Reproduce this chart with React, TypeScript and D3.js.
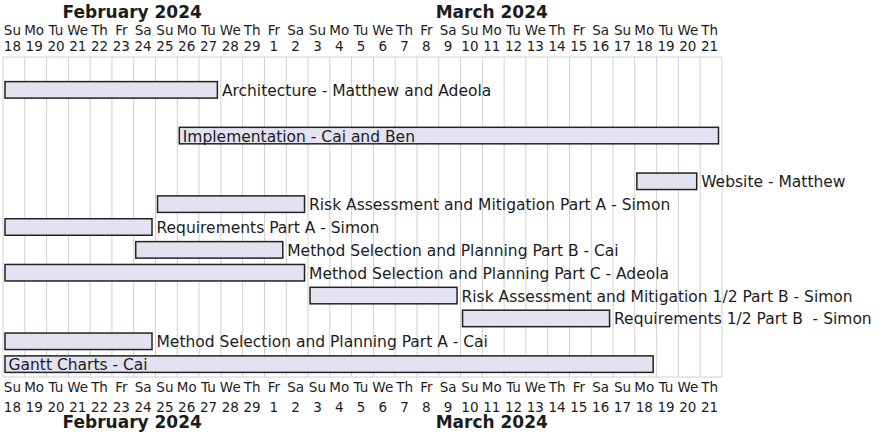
import React from 'react';
import * as d3 from 'd3';

const firstDay = '2024-02-18';
const lastDay = '2024-03-21';
const dayAbbr = ['Su', 'Mo', 'Tu', 'We', 'Th', 'Fr', 'Sa'];

const taskNames = [
  'Architecture - Matthew and Adeola',
  'Implementation - Cai and Ben',
  'Website - Matthew',
  'Risk Assessment and Mitigation Part A - Simon',
  'Requirements Part A - Simon',
  'Method Selection and Planning Part B - Cai',
  'Method Selection and Planning Part C - Adeola',
  'Risk Assessment and Mitigation 1/2 Part B - Simon',
  'Requirements 1/2 Part B  - Simon',
  'Method Selection and Planning Part A - Cai',
  'Gantt Charts - Cai',
];
const taskStarts = [
  '2024-02-18', '2024-02-26', '2024-03-18', '2024-02-25', '2024-02-18', '2024-02-24',
  '2024-02-18', '2024-03-03', '2024-03-10', '2024-02-18', '2024-02-18',
];
// last day included
const taskEnds = [
  '2024-02-27', '2024-03-21', '2024-03-20', '2024-03-02', '2024-02-24', '2024-03-01',
  '2024-03-02', '2024-03-09', '2024-03-16', '2024-02-24', '2024-03-18',
];
const taskRows = [1, 3, 5, 6, 7, 8, 9, 10, 11, 12, 13];
const labelInside = ['Implementation - Cai and Ben', 'Gantt Charts - Cai'];

const W = 882;
const H = 439;
const gridTop = 57;
const gridBottom = 377;
const rowCount = 14;
const font = 'DejaVu Sans, Verdana, sans-serif';
const ink = '#1c1c1c';

export default function App() {
  const parse = d3.utcParse('%Y-%m-%d');
  const d0 = parse(firstDay)!;
  const d1 = d3.utcDay.offset(parse(lastDay)!, 1);
  const days = d3.utcDay.range(d0, d1);

  const x = d3.scaleUtc().domain([d0, d1]).range([3, 722]);
  const y = d3.scaleLinear().domain([0, rowCount]).range([gridTop, gridBottom]);

  const months = d3.utcMonth.range(d3.utcMonth.floor(d0), d1).map(m => {
    const a = m < d0 ? d0 : m;
    const b = d3.utcMonth.offset(m, 1) > d1 ? d1 : d3.utcMonth.offset(m, 1);
    return { label: d3.utcFormat('%B %Y')(m), cx: (x(a) + x(b)) / 2 - 1.5 };
  });
  const colMid = (d: Date) => x(d) + (x(d3.utcDay.offset(d, 1)) - x(d)) / 2 - 1.5;

  const header = (dowY: number, numY: number, monY: number) => (
    <g fill={ink}>
      {months.map(m => (
        <text key={m.label} x={m.cx} y={monY} textAnchor="middle" fontWeight="bold" fontSize={17}>{m.label}</text>
      ))}
      {days.map(d => (
        <g key={+d} fontSize={13.5} textAnchor="middle">
          <text x={colMid(d)} y={dowY}>{dayAbbr[d.getUTCDay()]}</text>
          <text x={colMid(d)} y={numY}>{d.getUTCDate()}</text>
        </g>
      ))}
    </g>
  );

  return (
    <svg width={W} height={H} style={{ position: 'absolute', left: 0, top: 0, background: '#fff' }} fontFamily={font}>
      {days.concat([d1]).map(d => (
        <line key={'g' + +d} x1={x(d)} x2={x(d)} y1={gridTop} y2={gridBottom} stroke="#d0d0d0" strokeWidth={1} />
      ))}
      <line x1={x(d0)} x2={x(d1)} y1={gridTop} y2={gridTop} stroke="#d0d0d0" />
      <line x1={x(d0)} x2={x(d1)} y1={gridBottom} y2={gridBottom} stroke="#d0d0d0" />

      {header(35, 51, 18)}
      {header(391.5, 411.5, 428)}

      {taskNames.map((name, i) => {
        const s = parse(taskStarts[i])!;
        const e = d3.utcDay.offset(parse(taskEnds[i])!, 1);
        const top = y(taskRows[i]);
        const inside = labelInside.includes(name);
        return (
          <g key={name}>
            <rect x={x(s) + 2} y={top + 1.75} width={x(e) - x(s) - 5.5} height={16.5}
              fill="#e2e2f0" stroke="#222" strokeWidth={1.5} />
            <text x={inside ? x(s) + 5.5 : x(e) + 1} y={top + 16} fontSize={15.5} fill={ink}
              style={{ whiteSpace: 'pre' }}>{name}</text>
          </g>
        );
      })}
    </svg>
  );
}
